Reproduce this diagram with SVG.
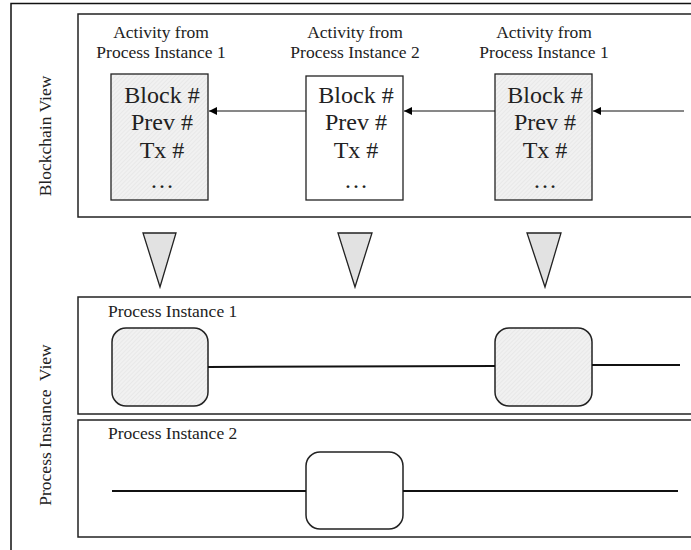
<svg xmlns="http://www.w3.org/2000/svg" width="691" height="550" viewBox="0 0 691 550">
<defs>
<pattern id="hatch" width="3" height="3" patternUnits="userSpaceOnUse" patternTransform="rotate(45)">
<rect width="3" height="3" fill="#f1f1f1"/>
<line x1="0" y1="0" x2="0" y2="3" stroke="#e0e0e0" stroke-width="1"/>
</pattern>
<marker id="arr" viewBox="0 0 10 10" refX="10" refY="5" markerWidth="8" markerHeight="8" markerUnits="userSpaceOnUse" orient="auto">
<path d="M0,0 L10,5 L0,10 z" fill="#000"/>
</marker>
<style>
.frame{fill:none;stroke:#111;stroke-width:1.5}
.box{fill:#fff;stroke:#222;stroke-width:1.5}
.blk{stroke:#222;stroke-width:1.3}
.lbl{font-family:"Liberation Serif","Times New Roman",serif;font-size:17.5px;fill:#222}
.bt{font-family:"Liberation Serif","Times New Roman",serif;font-size:24px;fill:#222;text-anchor:middle}
.tri{fill:#e2e2e2;stroke:#222;stroke-width:1.3}
.act{stroke:#222;stroke-width:1.5}
.ln{stroke:#111;stroke-width:2;fill:none}
.ar{stroke:#111;stroke-width:1;fill:none}
</style>
</defs>
<rect width="691" height="550" fill="#fff"/>
<path class="frame" d="M11,560 L11,3.5 L700,3.5"/>
<rect class="box" x="78" y="14" width="630" height="203"/>
<text class="lbl" transform="translate(51,136) rotate(-90)" text-anchor="middle">Blockchain View</text>
<rect class="box" x="78" y="297" width="630" height="117"/>
<rect class="box" x="78" y="420" width="630" height="117"/>
<text class="lbl" transform="translate(51,425) rotate(-90)" text-anchor="middle" xml:space="preserve">Process Instance  View</text>
<text class="lbl" x="108" y="317">Process Instance 1</text>
<text class="lbl" x="108" y="439">Process Instance 2</text>

<g id="block1">
<text class="lbl" x="161" y="38" text-anchor="middle">Activity from</text>
<text class="lbl" x="161" y="58" text-anchor="middle">Process Instance 1</text>
<rect class="blk" x="111" y="74" width="97" height="126" fill="url(#hatch)"/>
<text class="bt" x="162" y="103">Block #</text>
<text class="bt" x="162" y="130">Prev #</text>
<text class="bt" x="162" y="158">Tx #</text>
<text class="bt" x="162" y="188">…</text>
</g>
<g id="block2">
<text class="lbl" x="355" y="38" text-anchor="middle">Activity from</text>
<text class="lbl" x="355" y="58" text-anchor="middle">Process Instance 2</text>
<rect class="blk" x="306" y="76" width="97" height="124" fill="#fff"/>
<text class="bt" x="356" y="103">Block #</text>
<text class="bt" x="356" y="130">Prev #</text>
<text class="bt" x="356" y="158">Tx #</text>
<text class="bt" x="356" y="188">…</text>
</g>
<g id="block3">
<text class="lbl" x="544" y="38" text-anchor="middle">Activity from</text>
<text class="lbl" x="544" y="58" text-anchor="middle">Process Instance 1</text>
<rect class="blk" x="495" y="74" width="97" height="126" fill="url(#hatch)"/>
<text class="bt" x="545" y="103">Block #</text>
<text class="bt" x="545" y="130">Prev #</text>
<text class="bt" x="545" y="158">Tx #</text>
<text class="bt" x="545" y="188">…</text>
</g>

<g id="tri1"><polygon class="tri" points="143,233 176,233 160,287"/></g>
<g id="tri2"><polygon class="tri" points="338,233 372,233 355,287"/></g>
<g id="tri3"><polygon class="tri" points="527,233 561,233 545,287"/></g>

<g id="pi1-act1"><rect class="act" x="112" y="328" width="96" height="78" rx="14" fill="url(#hatch)"/></g>
<g id="pi1-act2"><rect class="act" x="495" y="328" width="97" height="78" rx="14" fill="url(#hatch)"/></g>
<g id="pi2-act1"><rect class="act" x="306" y="452" width="97" height="77" rx="14" fill="#fff"/></g>

<g id="connectors">
<line class="ar" x1="306" y1="111" x2="209" y2="111" marker-end="url(#arr)"/>
<line class="ar" x1="495" y1="111" x2="404" y2="111" marker-end="url(#arr)"/>
<line class="ar" x1="684" y1="111" x2="593" y2="111" marker-end="url(#arr)"/>
<line class="ln" x1="208" y1="367" x2="495" y2="366"/>
<line class="ln" x1="592" y1="365" x2="680" y2="365"/>
<line class="ln" x1="112" y1="491" x2="306" y2="491"/>
<line class="ln" x1="403" y1="491" x2="678" y2="491"/>
</g>
</svg>
